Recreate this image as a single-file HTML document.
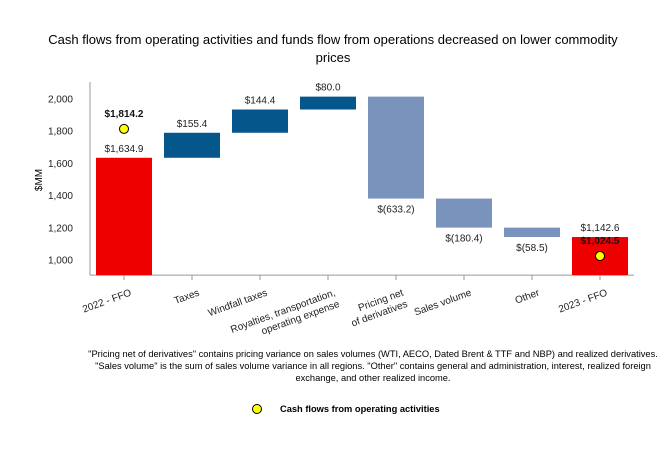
<!DOCTYPE html>
<html><head><meta charset="utf-8"><style>
body{margin:0;background:#fff;font-family:"Liberation Sans",Arial,sans-serif;}
svg text{font-family:"Liberation Sans",Arial,sans-serif;}
</style></head><body>
<svg id="c" width="666" height="450" xmlns="http://www.w3.org/2000/svg">
<text x="333" y="44" font-size="13" text-anchor="middle">Cash flows from operating activities and funds flow from operations decreased on lower commodity</text>
<text x="333" y="62" font-size="13" text-anchor="middle">prices</text>
<text transform="translate(42,180) rotate(-90)" font-size="10" text-anchor="middle">$MM</text>
<g id="plot"></g>
<text x="373" y="357" font-size="9.3" text-anchor="middle">"Pricing net of derivatives" contains pricing variance on sales volumes (WTI, AECO, Dated Brent &amp; TTF and NBP) and realized derivatives.</text>
<text x="373" y="369" font-size="9.3" text-anchor="middle">"Sales volume" is the sum of sales volume variance in all regions. "Other" contains general and administration, interest, realized foreign</text>
<text x="373" y="381" font-size="9.3" text-anchor="middle">exchange, and other realized income.</text>
<circle cx="257" cy="409" r="4.5" fill="#ffff00" stroke="#000" stroke-width="1"/>
<text x="280" y="412" font-size="9.3" font-weight="bold">Cash flows from operating activities</text>
</svg>
<script>
const categories=["2022 - FFO","Taxes","Windfall taxes","Royalties, transportation,|operating expense","Pricing net|of derivatives","Sales volume","Other","2023 - FFO"];
const deltas=[1634.9,155.4,144.4,80.0,-633.2,-180.4,-58.5,1142.6];
const valueLabels=["$1,634.9","$155.4","$144.4","$80.0","$(633.2)","$(180.4)","$(58.5)","$1,142.6"];
const cfoValues=[1814.2,null,null,null,null,null,null,1024.5];
const cfoLabels=["$1,814.2","","","","","","","$1,024.5"];
const yTicks=[1000,1200,1400,1600,1800,2000];
const yMin=906;
const NS="http://www.w3.org/2000/svg";
const g=document.getElementById("plot");
function y(v){return 260-(v-1000)*0.161;}
function xc(i){return 124+i*68;}
function mk(t,a,p){const e=document.createElementNS(NS,t);for(const k in a)e.setAttribute(k,a[k]);(p||g).appendChild(e);return e;}
let ax=mk("line",{x1:90,y1:y(yMin),x2:90,y2:82,stroke:"#999"});


let bx=mk("line",{x1:90,y1:y(yMin),x2:634,y2:y(yMin),stroke:"#999"});


yTicks.forEach(t=>{const e=mk("text",{x:73,y:y(t)+3.5,"font-size":10,"text-anchor":"end",fill:"#222"});e.textContent=t.toLocaleString("en-US");

});
let run=0;
categories.forEach((c,i)=>{
  const d=deltas[i];let top,bot,color;
  if(i==0||i==categories.length-1){bot=yMin;top=d;color="#ee0000";run=d;}
  else{const s=run;run+=d;top=Math.max(s,run);bot=Math.min(s,run);color=d>0?"#05568a":"#7a93bd";}
  const r=mk("rect",{x:xc(i)-28,y:y(top),width:56,height:y(bot)-y(top),fill:color});
  
  
  const tk=mk("line",{x1:xc(i),y1:y(yMin),x2:xc(i),y2:y(yMin)+5,stroke:"#999"});
  
  
  const ly=d<0&&i>0&&i<categories.length-1?y(bot)+14:y(top)-6;
  const l=mk("text",{x:xc(i),y:ly,"font-size":10,"text-anchor":"middle",fill:"#222"});l.textContent=valueLabels[i];
  
  
  const lines=c.split("|");
  const tg=mk("text",{transform:`translate(${xc(i)+8},${y(yMin)+20}) rotate(-20)`,"font-size":10,"text-anchor":"end",fill:"#222"});
  lines.forEach((ln,j)=>{const ts=mk("tspan",{x:0,dy:j?12:0},tg);ts.textContent=ln;});
  
  
  if(cfoValues[i]!=null){
    const p=mk("circle",{cx:xc(i),cy:y(cfoValues[i]),r:4.5,fill:"#ffff00",stroke:"#000","stroke-width":1});
    
    
    const pl=mk("text",{x:xc(i),y:y(cfoValues[i])-12,"font-size":10,"font-weight":"bold","text-anchor":"middle",fill:"#111"});pl.textContent=cfoLabels[i];
    
    
  }
});
</script>
</body></html>
